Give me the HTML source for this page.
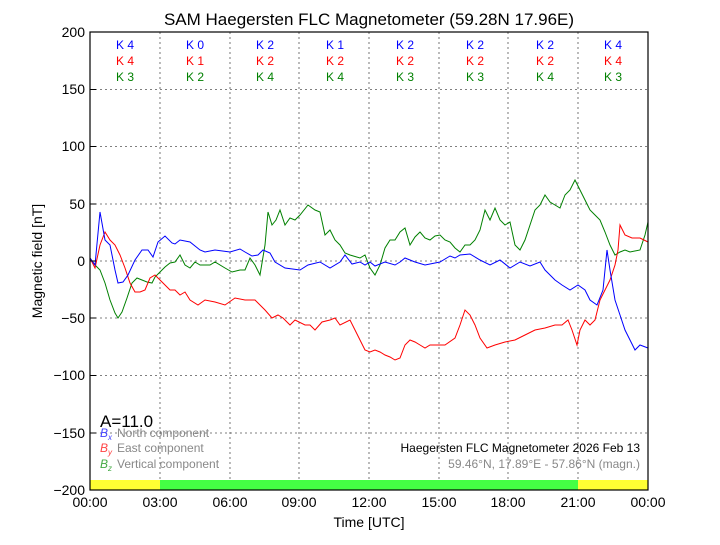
<!DOCTYPE html>
<html><head><meta charset="utf-8"><style>
body{margin:0;background:#fff;font-family:"Liberation Sans",sans-serif}
svg text{font-family:"Liberation Sans",sans-serif}
</style></head><body>
<svg width="720" height="540" xmlns="http://www.w3.org/2000/svg">
<rect width="720" height="540" fill="#fff"/>
<text x="369" y="25" font-size="17" text-anchor="middle">SAM Haegersten FLC Magnetometer (59.28N 17.96E)</text>
<g stroke="#555" stroke-dasharray="2,3" stroke-width="0.8">
<line x1="160" y1="32" x2="160" y2="480"/><line x1="230" y1="32" x2="230" y2="480"/><line x1="299" y1="32" x2="299" y2="480"/><line x1="369" y1="32" x2="369" y2="480"/><line x1="439" y1="32" x2="439" y2="480"/><line x1="508" y1="32" x2="508" y2="480"/><line x1="578" y1="32" x2="578" y2="480"/>
<line x1="90" y1="89.5" x2="648" y2="89.5"/><line x1="90" y1="146.5" x2="648" y2="146.5"/><line x1="90" y1="204" x2="648" y2="204"/><line x1="90" y1="261" x2="648" y2="261"/><line x1="90" y1="318" x2="648" y2="318"/><line x1="90" y1="375.5" x2="648" y2="375.5"/><line x1="90" y1="433" x2="648" y2="433"/>
</g>
<rect x="90" y="480" width="70" height="10" fill="#ffff33"/>
<rect x="160" y="480" width="418" height="10" fill="#44ff44"/>
<rect x="578" y="480" width="70" height="10" fill="#ffff33"/>
<g font-size="12" text-anchor="middle">
<g fill="#0000ff"><text x="125" y="49">K 4</text><text x="195" y="49">K 0</text><text x="265" y="49">K 2</text><text x="335" y="49">K 1</text><text x="405" y="49">K 2</text><text x="475" y="49">K 2</text><text x="545" y="49">K 2</text><text x="613" y="49">K 4</text></g>
<g fill="#ff0000"><text x="125" y="65">K 4</text><text x="195" y="65">K 1</text><text x="265" y="65">K 2</text><text x="335" y="65">K 2</text><text x="405" y="65">K 2</text><text x="475" y="65">K 2</text><text x="545" y="65">K 2</text><text x="613" y="65">K 4</text></g>
<g fill="#008000"><text x="125" y="81">K 3</text><text x="195" y="81">K 2</text><text x="265" y="81">K 4</text><text x="335" y="81">K 4</text><text x="405" y="81">K 3</text><text x="475" y="81">K 3</text><text x="545" y="81">K 4</text><text x="613" y="81">K 3</text></g>
</g>
<g fill="none" stroke-width="1">
<polyline stroke="#008000" points="90,258 95,265 100,270 105,283 110,300 115,313 118,318 122,312 127,298 132,283 137,278 142,280 147,282 152,283 155,277 160,272 165,267 170,263 175,262 180,255 185,265 190,268 195,262 200,265 210,265 215,262 225,268 232,272 240,270 245,270 250,258 255,265 260,275 265,245 268,212 272,225 276,220 280,210 285,225 290,218 295,220 300,215 308,205 315,210 320,212 325,235 330,230 335,240 340,245 345,253 350,255 360,258 365,255 370,268 375,275 380,265 385,248 390,240 395,240 400,232 405,228 410,245 415,237 420,232 425,238 430,240 435,236 440,235 445,240 450,242 455,248 460,252 465,245 470,245 475,240 480,230 485,210 490,220 495,208 500,220 505,225 510,222 515,245 520,250 525,240 530,225 535,210 540,205 545,195 550,202 555,205 560,208 565,195 570,190 575,180 580,190 585,200 590,210 595,215 600,220 605,232 610,245 615,255 620,252 625,250 630,252 640,250 645,235 648,222"/>
<polyline stroke="#ff0000" points="90,258 95,268 100,245 105,232 110,240 115,245 120,255 125,268 130,283 135,292 140,292 145,290 150,278 155,275 160,280 165,285 170,290 175,290 180,295 185,292 190,300 198,305 205,300 215,302 225,305 235,298 245,300 255,300 260,305 265,310 272,318 278,315 283,318 290,325 295,320 305,325 310,325 315,330 322,322 330,320 335,318 340,325 350,320 355,330 360,340 365,350 370,352 375,350 380,352 385,355 390,357 395,360 400,358 405,345 410,340 415,342 420,345 425,348 430,345 435,345 445,345 455,338 460,325 465,310 470,315 475,325 480,338 487,348 495,345 505,342 515,340 525,335 535,330 545,328 555,325 562,325 568,320 572,330 577,345 580,330 585,320 590,325 595,320 600,300 605,290 610,280 615,265 618,250 620,225 625,235 632,238 640,238 648,242"/>
<polyline stroke="#0000ff" points="90,258 95,265 100,212 105,240 110,245 115,270 118,283 123,282 128,275 135,260 142,250 148,250 153,257 158,242 165,236 172,243 175,244 180,240 190,242 200,250 205,252 215,250 230,252 240,249 245,252 252,256 258,255 263,250 270,253 275,262 285,268 300,270 308,265 320,262 330,268 340,262 345,255 352,264 360,262 365,265 370,262 375,266 385,262 395,265 400,262 405,258 415,262 425,265 440,262 450,256 455,258 460,255 470,254 480,260 490,265 500,260 510,268 520,262 530,266 540,262 545,270 555,280 562,285 570,290 578,285 585,290 590,300 597,305 603,290 607,250 610,270 615,300 620,315 625,330 630,340 635,350 640,345 648,348"/>
</g>
<rect x="90" y="32" width="558" height="458" fill="none" stroke="#000" stroke-width="1.2"/>
<g stroke="#000">
<line x1="90" y1="32" x2="96" y2="32"/><line x1="90" y1="89.5" x2="96" y2="89.5"/><line x1="90" y1="146.5" x2="96" y2="146.5"/><line x1="90" y1="204" x2="96" y2="204"/><line x1="90" y1="261" x2="96" y2="261"/><line x1="90" y1="318" x2="96" y2="318"/><line x1="90" y1="375.5" x2="96" y2="375.5"/><line x1="90" y1="433" x2="96" y2="433"/>
</g>
<g font-size="14" text-anchor="end">
<text x="85" y="37">200</text><text x="85" y="94">150</text><text x="85" y="151">100</text><text x="85" y="209">50</text><text x="85" y="266">0</text><text x="85" y="323">−50</text><text x="85" y="380">−100</text><text x="85" y="438">−150</text><text x="85" y="495">−200</text>
</g>
<g font-size="14" text-anchor="middle">
<text x="90" y="507">00:00</text><text x="160" y="507">03:00</text><text x="230" y="507">06:00</text><text x="299" y="507">09:00</text><text x="369" y="507">12:00</text><text x="439" y="507">15:00</text><text x="508" y="507">18:00</text><text x="578" y="507">21:00</text><text x="648" y="507">00:00</text>
</g>
<text x="369" y="527" font-size="14" text-anchor="middle">Time [UTC]</text>
<text transform="translate(42,261) rotate(-90)" font-size="14" text-anchor="middle">Magnetic field [nT]</text>
<text x="100" y="427" font-size="17">A=11.0</text>
<g font-size="12">
<text x="100" y="437" fill="#4444ff" font-style="italic" font-family="Liberation Serif">B<tspan font-size="8" dy="3">x</tspan></text><text x="117" y="437" fill="#888">North component</text>
<text x="100" y="452" fill="#ff4444" font-style="italic" font-family="Liberation Serif">B<tspan font-size="8" dy="3">y</tspan></text><text x="117" y="452" fill="#888">East component</text>
<text x="100" y="468" fill="#44aa44" font-style="italic" font-family="Liberation Serif">B<tspan font-size="8" dy="3">z</tspan></text><text x="117" y="468" fill="#888">Vertical component</text>
<text x="640" y="452" text-anchor="end">Haegersten FLC Magnetometer 2026 Feb 13</text>
<text x="640" y="468" text-anchor="end" fill="#888">59.46°N, 17.89°E - 57.86°N (magn.)</text>
</g>
</svg>
</body></html>
